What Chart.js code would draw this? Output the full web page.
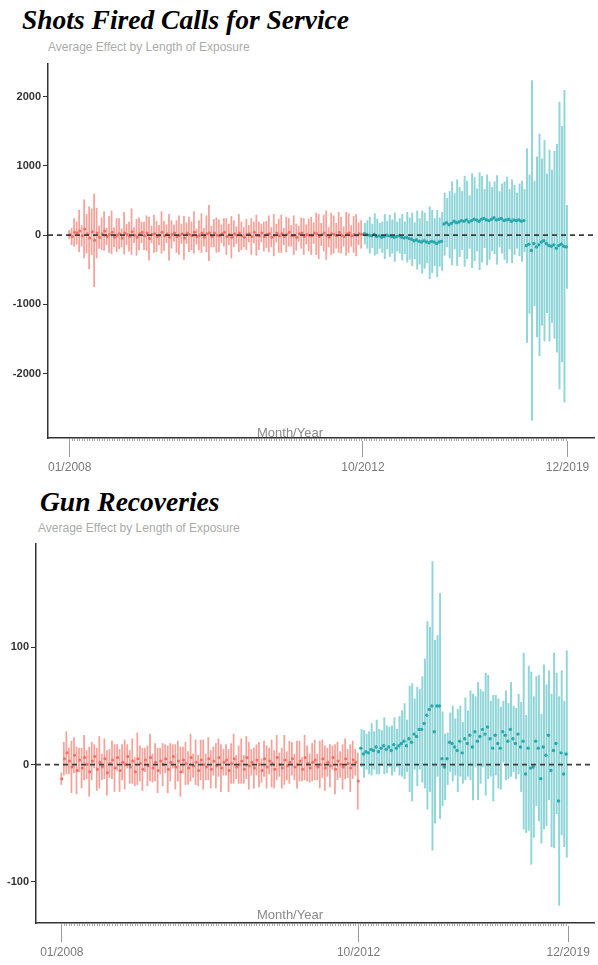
<!DOCTYPE html>
<html>
<head>
<meta charset="utf-8">
<script src="https://cdn.jsdelivr.net/npm/chart.js@4/dist/chart.umd.min.js"></script>
<style>
  html, body { margin: 0; padding: 0; background: #fff; }
  body { width: 598px; height: 965px; overflow: hidden; position: relative; font-family: "Liberation Sans", Arial, sans-serif; }
  .title { position: absolute; font: italic bold 27.5px "Liberation Serif", "Times New Roman", serif; color: #000; white-space: nowrap; line-height: 1; }
  .sub { position: absolute; font-size: 12px; color: #ababab; white-space: nowrap; line-height: 1; }
  .xt { position: absolute; font-size: 13px; color: #8a8a8a; white-space: nowrap; line-height: 1; z-index: 2; transform: translateX(-50%); }
  canvas { position: absolute; left: 0; }
</style>
</head>
<body>
<div class="title" style="left:22px; top:6px;">Shots Fired Calls for Service</div>
<div class="sub" style="left:48px; top:41px;">Average Effect by Length of Exposure</div>
<div class="xt" style="left:290px; top:426px;">Month/Year</div>
<canvas id="shots" width="598" height="421" style="top:60px;"></canvas>

<div class="title" style="left:40px; top:488px;">Gun Recoveries</div>
<div class="sub" style="left:38px; top:522px;">Average Effect by Length of Exposure</div>
<div class="xt" style="left:290px; top:908px;">Month/Year</div>
<canvas id="guns" width="598" height="424" style="top:540px;"></canvas>

<script>
// ---- Shots fired calls for service: pre-period (red) and post-period (teal) ----
const shotsPreEst = [
  10,-20,40,30,60,-10,90,20,-40,50,-75,30,-30,20,60,-20,10,40,-30,0,
  20,-40,30,10,-20,50,0,-30,20,40,-10,30,-50,10,20,-20,0,40,-10,20,
  -30,10,30,-20,0,20,-40,30,10,-10,40,-20,0,30,-30,20,30,-20,30,0,
  -10,20,40,-20,10,-30,20,0,30,-10,-30,10,20,-20,40,0,-10,30,-20,10,
  20,-30,0,30,-10,20,-20,10,40,-10,0,-30,20,30,-20,10,0,-10,30,20,
  -20,10,30,0,-30,20,10,-10,40,0,-20,20,30,-10,10,0,20,10
];
const shotsPreErr = [
  60,120,200,160,300,150,420,280,450,330,670,360,160,230,280,120,260,310,140,240,
  220,130,300,150,210,330,110,260,230,150,200,250,310,120,270,220,140,300,210,130,
  330,200,120,230,280,140,310,150,250,200,300,110,210,280,130,260,400,150,200,250,
  230,130,200,260,150,300,190,120,270,200,140,220,120,260,150,290,200,130,210,190,
  260,140,300,130,240,270,120,250,200,150,280,190,110,220,260,140,230,270,150,300,
  320,160,260,350,140,300,270,180,290,260,140,310,280,150,260,300,160,200
];
const shotsPostEst = [
  20,10,0,-10,10,-20,-10,-30,-20,0,-10,-20,-30,-20,-10,-30,-40,-30,
  -50,-60,-80,-70,-90,-100,-80,-100,-110,-90,-100,-120,-100,-90,
  160,180,150,170,200,180,190,210,200,220,190,210,230,220,200,230,240,220,210,230,250,220,230,240,210,220,230,200,220,210,220,200,210,
  -150,-130,-220,-120,-170,-140,-100,-80,-120,-150,-160,-140,-190,-150,-130,-160,-170
];
const shotsPostErr = [
  150,200,260,170,300,250,180,220,320,200,300,240,350,210,250,330,230,360,
  300,380,260,420,330,450,400,300,520,450,340,480,350,420,
  450,350,480,600,400,620,500,420,650,560,380,680,600,450,700,620,420,650,560,460,520,640,400,500,560,620,430,600,500,400,520,580,450,
  1400,1000,2450,900,1300,1600,1200,1450,1000,1380,1100,1350,1500,2070,1700,2250,600
];
const shotsYTicks = [-2000, -1000, 0, 1000, 2000];

// ---- Gun recoveries: pre-period (red) and post-period (teal) ----
const gunPreEst = [
  -12,5,10,3,-2,8,-5,4,-3,6,0,-6,3,7,-4,2,-2,5,-7,1,
  4,-3,6,-5,2,0,7,-2,3,-6,5,1,-4,4,-1,6,-3,2,-5,3,
  0,5,-4,2,7,-2,3,-6,4,1,-3,6,-1,2,-5,4,0,-2,5,-4,
  3,-1,6,-3,2,4,-5,1,5,-2,0,3,-4,6,-1,2,-3,4,0,-5,
  5,-2,3,1,-4,6,0,-3,4,-1,2,5,-2,0,3,-4,6,1,-3,2,
  4,-2,0,5,-3,2,-1,6,-4,3,0,-2,5,1,-3,4,2,-14
];
const gunPreErr = [
  5,14,18,11,22,15,20,10,17,19,12,21,16,10,18,22,11,17,19,12,
  16,20,11,18,15,21,10,14,19,12,22,15,18,10,17,20,12,16,19,11,
  18,12,20,16,10,19,17,21,11,18,14,20,10,19,13,17,21,11,18,16,
  12,19,16,20,11,13,18,17,21,10,16,19,12,18,20,11,17,13,19,10,
  15,18,11,20,16,19,10,17,21,12,18,14,11,20,17,10,19,15,12,16,
  17,11,20,16,19,12,18,10,21,16,11,19,17,12,20,16,11,24
];
const gunPostEst = [
  14,9,11,10,13,12,15,11,14,16,13,15,12,17,14,16,
  18,20,16,22,19,26,24,30,
  30,35,42,47,50,28,50,50,5,
  -2,5,19,18,15,12,20,10,
  22,18,25,15,28,20,24,30,26,32,22,14,25,18,
  14,28,25,20,30,22,18,26,15,
  20,-8,14,-3,-2,20,14,-12,15,8,25,-5,12,18,-31,10,-8,9
];
const gunPostErr = [
  16,20,15,18,22,16,23,19,15,24,20,17,21,23,16,25,
  28,32,22,45,50,30,42,34,
  45,55,80,70,123,78,60,96,40,
  28,22,25,32,24,35,30,26,
  35,28,38,45,30,50,40,32,52,44,32,45,34,38,
  35,26,38,32,40,28,30,34,38,
  75,50,70,82,60,55,62,55,70,60,55,65,83,60,89,70,62,88
];
const gunYTicks = [-100, 0, 100];

// Date labels on the exposure axis
const dateLabels = ['01/2008', '10/2012', '12/2019'];

const RED_BAR = '#f4a29a';
const RED_DOT = '#ef6f64';
const TEAL_BAR = '#90d5d8';
const TEAL_DOT = '#27a9ae';

function intervals(est, err, start) {
  return est.map((v, k) => ({ x: start + k, y: [v - err[k], v + err[k]] }));
}
function points(est, start) {
  return est.map((v, k) => ({ x: start + k, y: v }));
}

function drawPanel(id, preEst, preErr, postEst, postErr, yTicks, cfg) {
  const nPre = preEst.length;
  const nAll = nPre + postEst.length;
  const positions = [];
  for (let k = 0; k < nAll; k++) positions.push(k);

  new Chart(document.getElementById(id), {
    type: 'bar',
    data: {
      datasets: [
        { type: 'line', data: [{ x: cfg.xMin, y: 0 }, { x: cfg.xMax, y: 0 }],
          borderColor: '#3d3d3d', borderWidth: 1.6, borderDash: [5, 4], pointRadius: 0, order: 0 },
        { type: 'scatter', data: points(preEst, 0), backgroundColor: RED_DOT, pointRadius: 1.5, borderWidth: 0, order: 1 },
        { type: 'scatter', data: points(postEst, nPre), backgroundColor: TEAL_DOT, pointRadius: 1.7, borderWidth: 0, order: 1 },
        { type: 'bar', data: intervals(preEst, preErr, 0), backgroundColor: RED_BAR, barThickness: 1.1, order: 2 },
        { type: 'bar', data: intervals(postEst, postErr, nPre), backgroundColor: TEAL_BAR, barThickness: 1.3, order: 2 }
      ]
    },
    options: {
      responsive: false,
      animation: false,
      events: [],
      layout: { padding: 0 },
      plugins: { legend: { display: false }, tooltip: { enabled: false } },
      scales: {
        x: {
          type: 'linear', position: 'bottom', min: cfg.xMin, max: cfg.xMax, offset: false, weight: 1,
          border: { display: false },
          grid: { drawOnChartArea: false, offset: false, tickLength: 16, color: '#9a9a9a', lineWidth: 1 },
          ticks: { color: '#7a7a7a', font: { size: 12, family: '"Liberation Sans", Arial, sans-serif' },
                   padding: 3, maxRotation: 0, autoSkip: false, callback: (v, i) => dateLabels[i] },
          afterBuildTicks: s => { s.ticks = cfg.datePos.map(v => ({ value: v })); },
          afterFit: s => { s.height = cfg.xHeight; s.paddingLeft = 0; s.paddingRight = 0; }
        },
        xMinor: {
          type: 'linear', position: 'bottom', min: cfg.xMin, max: cfg.xMax, offset: false, weight: 0,
          border: { display: true, color: '#333', width: 1.5 },
          grid: { drawOnChartArea: false, offset: false, tickLength: 3, color: '#a8a8a8', lineWidth: 1 },
          ticks: { display: false, autoSkip: false },
          afterBuildTicks: s => { s.ticks = positions.map(v => ({ value: v })); },
          afterFit: s => { s.height = 3; s.paddingLeft = 0; s.paddingRight = 0; }
        },
        y: {
          type: 'linear', min: cfg.yMin, max: cfg.yMax,
          border: { display: true, color: '#333', width: 1.5 },
          grid: { drawOnChartArea: false, tickLength: 5, color: '#333', lineWidth: 1 },
          ticks: { color: '#333', font: { size: 11, weight: 'bold', family: '"Liberation Sans", Arial, sans-serif' },
                   padding: 2, callback: v => String(v) },
          afterBuildTicks: s => { s.ticks = yTicks.map(v => ({ value: v })); },
          afterFit: s => { s.width = cfg.yWidth; s.paddingTop = 0; s.paddingBottom = 0; }
        }
      }
    }
  });
}

drawPanel('shots', shotsPreEst, shotsPreErr, shotsPostEst, shotsPostErr, shotsYTicks, {
  xMin: -8.7, xMax: 210.1, yMin: -2929, yMax: 2471, yWidth: 48, xHeight: 40,
  datePos: [0, 117.5, 199.5]
});

drawPanel('guns', gunPreEst, gunPreErr, gunPostEst, gunPostErr, gunYTicks, {
  xMin: -10.2, xMax: 210, yMin: -135, yMax: 188, yWidth: 36, xHeight: 38,
  datePos: [0, 117.1, 199.8]
});
</script>
</body>
</html>
